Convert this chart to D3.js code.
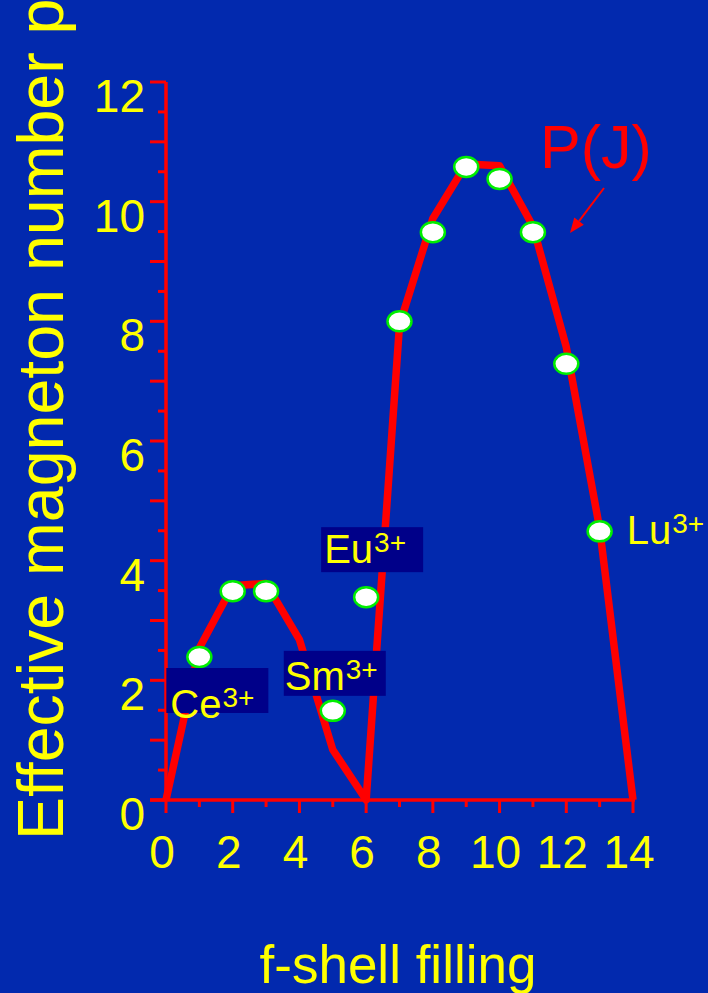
<!DOCTYPE html>
<html><head><meta charset="utf-8">
<script src="https://cdn.jsdelivr.net/npm/d3@7"></script>
<style>html,body{margin:0;padding:0;background:#0229ae;} svg{display:block}</style>
</head><body><svg id="c" width="708" height="993"></svg>
<script>
// ---- data ----
const fillingN   = [0,1,2,3,4,5,6,7,8,9,10,11,12,13,14];
const theoryP    = [0,2.54,3.58,3.62,2.68,0.84,0,7.94,9.72,10.63,10.60,9.59,7.57,4.54,0];
const measuredN  = [1,2,3,5,6,7,8,9,10,11,12,13];
const measuredP  = [2.39,3.49,3.49,1.49,3.39,8.0,9.49,10.58,10.38,9.49,7.29,4.49];
const xTickValues = [0,2,4,6,8,10,12,14];
const xTickLabels = ["0","2","4","6","8","10","12","14"];
const yTickValues = [0,2,4,6,8,10,12];
const yTickLabels = ["0","2","4","6","8","10","12"];
const ionNames   = ["Ce","Sm","Eu","Lu"];
const ionN       = [1,5,6,13];
const ionCharge  = ["3+","3+","3+","3+"];
const curveName  = "P(J)";
const xTitle = "f-shell filling";
const yTitle = "Effective magneton number p";

// ---- drawing ----
const svg = d3.select("#c");
const FONT = "Arial, 'Liberation Sans', Helvetica, sans-serif";
const YEL = "#ffff00", RED = "#ff0000";
svg.append("rect").attr("width",708).attr("height",993).attr("fill","#0229ae");

const x = d3.scaleLinear().domain([0,14]).range([166,633]);
const y = d3.scaleLinear().domain([0,12]).range([800,82]);

const g = svg.append("g");
// axis lines
g.append("line").attr("x1",x(0)).attr("x2",x(0)).attr("y1",y(12)).attr("y2",y(0))
  .attr("stroke",RED).attr("stroke-width",3.5);
g.append("line").attr("x1",x(0)-16).attr("x2",x(14)+2).attr("y1",y(0)).attr("y2",y(0))
  .attr("stroke",RED).attr("stroke-width",3.5);
// y ticks every 0.5, long at integers
d3.range(0,12.01,0.5).forEach(v=>{
  const L = Number.isInteger(v)?16:8;
  g.append("line").attr("x1",x(0)-L).attr("x2",x(0)).attr("y1",y(v)).attr("y2",y(v))
    .attr("stroke",RED).attr("stroke-width",3);
});
// x ticks every 1, long at even
d3.range(0,15,1).forEach(v=>{
  const L = v%2===0?13:7;
  g.append("line").attr("x1",x(v)).attr("x2",x(v)).attr("y1",y(0)).attr("y2",y(0)+L)
    .attr("stroke",RED).attr("stroke-width",3);
});
// tick labels
yTickValues.forEach((v,i)=>{
  g.append("text").attr("x",145).attr("y",y(v)+30).attr("text-anchor","end")
   .attr("font-family",FONT).attr("font-size",46).attr("fill",YEL).text(yTickLabels[i]);
});
xTickValues.forEach((v,i)=>{
  g.append("text").attr("x",x(v)-4).attr("y",868).attr("text-anchor","middle")
   .attr("font-family",FONT).attr("font-size",46).attr("fill",YEL).text(xTickLabels[i]);
});
// titles
svg.append("text").attr("x",398).attr("y",983).attr("text-anchor","middle")
  .attr("font-family",FONT).attr("font-size",53).attr("fill",YEL).text(xTitle);
svg.append("text").attr("transform","translate(63,840) rotate(-90)").attr("text-anchor","start")
  .attr("font-family",FONT).attr("font-size",64.5).attr("fill",YEL).text(yTitle);

// curve
const line = d3.line().x((d,i)=>x(fillingN[i])).y(d=>y(d));
svg.append("path").attr("d",line(theoryP)).attr("fill","none").attr("stroke",RED)
  .attr("stroke-width",7.5).attr("stroke-linejoin","round");

// measured points
svg.selectAll("ellipse.pt").data(measuredP).enter().append("ellipse")
  .attr("cx",(d,i)=>x(measuredN[i])).attr("cy",d=>y(d)).attr("rx",12).attr("ry",10)
  .attr("fill","#ffffff").attr("stroke","#00ee00").attr("stroke-width",2.5);

// ion labels (offsets relative to their measured point)
const boxOff = {Ce:[-33,11], Sm:[-49,-60], Eu:[-45,-70]};
const txtOff = {Ce:[4,50], Sm:[1,39], Eu:[3,36], Lu:[27,13]};
ionNames.forEach((nm,i)=>{
  const k = measuredN.indexOf(ionN[i]);
  const px = x(ionN[i]), py = y(measuredP[k]);
  if (boxOff[nm]) {
    svg.append("rect").attr("x",px+boxOff[nm][0]).attr("y",py+boxOff[nm][1])
      .attr("width",102).attr("height",45).attr("fill","#000089");
  }
  const bx = boxOff[nm] ? px+boxOff[nm][0] : px;
  const by = boxOff[nm] ? py+boxOff[nm][1] : py;
  const t = svg.append("text").attr("x",bx+txtOff[nm][0]).attr("y",by+txtOff[nm][1])
    .attr("font-family",FONT).attr("font-size",40).attr("fill",YEL);
  t.append("tspan").text(nm);
  t.append("tspan").attr("font-size",28).attr("dx",1).attr("dy",-11).text(ionCharge[i]);
});

// P(J) annotation with arrow
svg.append("text").attr("x",540).attr("y",168).attr("font-family",FONT).attr("font-size",61)
  .attr("fill",RED).text(curveName);
const a0=[604,188], a1=[570,233];
const ang = Math.atan2(a1[1]-a0[1], a1[0]-a0[0]);
const hl=15, hw=6;
const base=[a1[0]-hl*Math.cos(ang), a1[1]-hl*Math.sin(ang)];
svg.append("line").attr("x1",a0[0]).attr("y1",a0[1]).attr("x2",base[0]).attr("y2",base[1])
  .attr("stroke",RED).attr("stroke-width",2);
svg.append("polygon").attr("points",[
  a1, [base[0]+hw*Math.sin(ang), base[1]-hw*Math.cos(ang)],
  [base[0]-hw*Math.sin(ang), base[1]+hw*Math.cos(ang)]].map(p=>p.join(",")).join(" "))
  .attr("fill",RED);
</script></body></html>
